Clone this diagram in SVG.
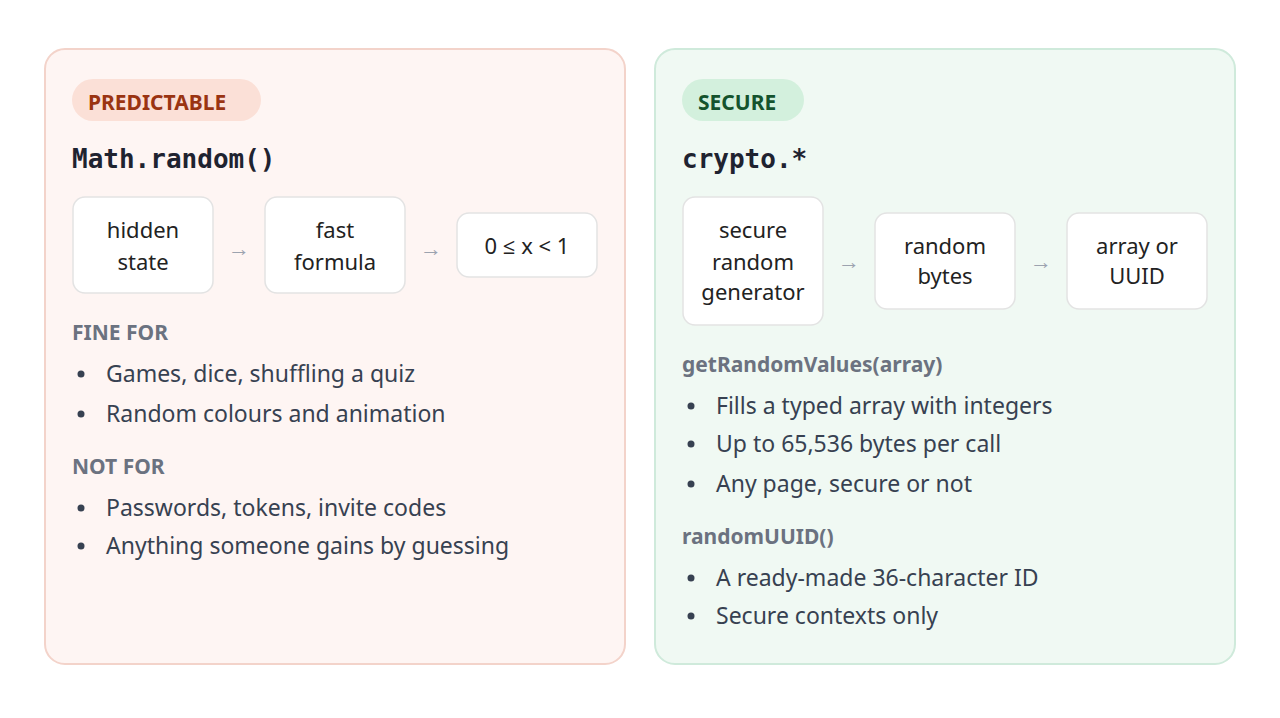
<svg xmlns="http://www.w3.org/2000/svg" width="1280" height="718" viewBox="0 0 1280 718">
<style>
text{font-family:"Noto Sans","Open Sans",sans-serif}
.box{fill:#fff;stroke:#e3e3e3;stroke-width:1.5}
.bt{font-size:22px;fill:#222;text-anchor:middle}
.arr{font-size:22px;fill:#9ca3af;text-anchor:middle}
.h{font-size:21px;font-weight:bold;fill:#6b7280}
.li{font-size:23px;fill:#374151}
.dot{fill:#374151}
.mono{font-family:"DejaVu Sans Mono",monospace;font-weight:bold;font-size:26px;fill:#1f2330}
</style>
<rect width="1280" height="718" fill="#fff"/>
<g id="predictable">
<rect x="45" y="49" width="580" height="615" rx="20" fill="#fef5f3" stroke="#f3d3ca" stroke-width="2"/>
<rect x="72" y="79" width="189" height="42" rx="21" fill="#fbe0d7"/>
<text x="88" y="110" font-size="21" font-weight="bold" fill="#9a3412">PREDICTABLE</text>
<text x="72" y="168" class="mono">Math.random()</text>
<text x="72" y="340" class="h">FINE FOR</text>
<circle cx="81" cy="374" r="3.5" class="dot"/><text x="106" y="382" class="li">Games, dice, shuffling a quiz</text>
<circle cx="81" cy="414" r="3.5" class="dot"/><text x="106" y="422" class="li">Random colours and animation</text>
<text x="72" y="474" class="h">NOT FOR</text>
<circle cx="81" cy="508" r="3.5" class="dot"/><text x="106" y="516" class="li">Passwords, tokens, invite codes</text>
<circle cx="81" cy="546" r="3.5" class="dot"/><text x="106" y="554" class="li">Anything someone gains by guessing</text>
</g>
<g id="secure">
<rect x="655" y="49" width="580" height="615" rx="20" fill="#f0f9f3" stroke="#cfeadb" stroke-width="2"/>
<rect x="682" y="79" width="122" height="42" rx="21" fill="#d3f0dd"/>
<text x="698" y="110" font-size="21" font-weight="bold" fill="#14532d">SECURE</text>
<text x="682" y="168" class="mono">crypto.*</text>
<text x="682" y="372" class="h">getRandomValues(array)</text>
<circle cx="691" cy="406" r="3.5" class="dot"/><text x="716" y="414" class="li">Fills a typed array with integers</text>
<circle cx="691" cy="444" r="3.5" class="dot"/><text x="716" y="452" class="li">Up to 65,536 bytes per call</text>
<circle cx="691" cy="484" r="3.5" class="dot"/><text x="716" y="492" class="li">Any page, secure or not</text>
<text x="682" y="544" class="h">randomUUID()</text>
<circle cx="691" cy="578" r="3.5" class="dot"/><text x="716" y="586" class="li">A ready-made 36-character ID</text>
<circle cx="691" cy="616" r="3.5" class="dot"/><text x="716" y="624" class="li">Secure contexts only</text>
</g>
<g id="n-hidden"><rect class="box" x="73" y="197" width="140" height="96" rx="12"/><text class="bt" x="143" y="238">hidden</text><text class="bt" x="143" y="270">state</text></g>
<g id="n-formula"><rect class="box" x="265" y="197" width="140" height="96" rx="12"/><text class="bt" x="335" y="238">fast</text><text class="bt" x="335" y="270">formula</text></g>
<g id="n-range"><rect class="box" x="457" y="213" width="140" height="64" rx="12"/><text class="bt" x="527" y="254">0 ≤ x &lt; 1</text></g>
<g id="n-gen"><rect class="box" x="683" y="197" width="140" height="128" rx="12"/><text class="bt" x="753" y="238">secure</text><text class="bt" x="753" y="270">random</text><text class="bt" x="753" y="300">generator</text></g>
<g id="n-bytes"><rect class="box" x="875" y="213" width="140" height="96" rx="12"/><text class="bt" x="945" y="254">random</text><text class="bt" x="945" y="284">bytes</text></g>
<g id="n-uuid"><rect class="box" x="1067" y="213" width="140" height="96" rx="12"/><text class="bt" x="1137" y="254">array or</text><text class="bt" x="1137" y="284">UUID</text></g>
<g id="connectors">
<text class="arr" x="239" y="256">→</text>
<text class="arr" x="431" y="256">→</text>
<text class="arr" x="849" y="269">→</text>
<text class="arr" x="1041" y="269">→</text>
</g>
</svg>
